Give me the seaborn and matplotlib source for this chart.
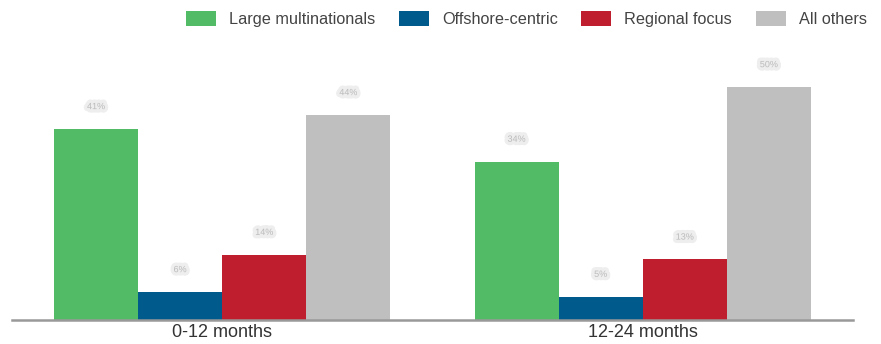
import matplotlib
matplotlib.use("Agg")
import matplotlib.pyplot as plt
import matplotlib.patheffects as pe
from matplotlib.patches import Patch
import seaborn as sns
import pandas as pd

periods = ["0-12 months", "12-24 months"]
segments = ["Large multinationals", "Offshore-centric", "Regional focus", "All others"]
large_multinationals = [41, 34]
offshore_centric = [6, 5]
regional_focus = [14, 13]
all_others = [44, 50]

colors = ["#52bb66", "#005a8c", "#be1e2d", "#bfbfbf"]

rows = []
for seg, vals in zip(segments, [large_multinationals, offshore_centric, regional_focus, all_others]):
    for p, v in zip(periods, vals):
        rows.append({"period": p, "segment": seg, "value": v})
df = pd.DataFrame(rows)

sns.set_theme(style="white")
plt.rcParams['font.family'] = ['Liberation Sans', 'DejaVu Sans']

fig = plt.figure(figsize=(8.81, 3.44), dpi=100)
ax = fig.add_axes([12/881, 1-320/344, 841/881, 280/344])
sns.barplot(data=df, x="period", y="value", hue="segment", order=periods,
            hue_order=segments, palette=colors, width=0.8, saturation=1,
            edgecolor="none", linewidth=0, ax=ax, legend=False)
ax.set_xlim(-0.5, 1.5)
ax.set_ylim(0, 60.1)
ax.set_xlabel("")
ax.set_ylabel("")
ax.set_yticks([])
for s in ["top", "right", "left"]:
    ax.spines[s].set_visible(False)
ax.spines["bottom"].set_color("#999999")
ax.spines["bottom"].set_linewidth(1.8)
ax.tick_params(axis="x", length=0, labelsize=13, colors="#333333", pad=3)

for cont in ax.containers:
    for bar in cont:
        h = bar.get_height()
        ax.text(bar.get_x() + bar.get_width()/2, h + 4.8, f"{h:.0f}%",
                ha="center", va="center", fontsize=6.5, color="#b8b8b8", alpha=0.9,
                path_effects=[pe.withStroke(linewidth=5, foreground="#ededed")])

handles = [Patch(facecolor=c, edgecolor="none") for c in colors]
fig.legend(handles, segments, loc="upper right", bbox_to_anchor=(0.994, 0.994), ncol=4,
           frameon=False, fontsize=11.7, handlelength=1.85, handleheight=1.05,
           columnspacing=1.45, handletextpad=0.8, labelcolor="#444444",
           borderaxespad=0.15)

fig.savefig("out.png", dpi=100)
